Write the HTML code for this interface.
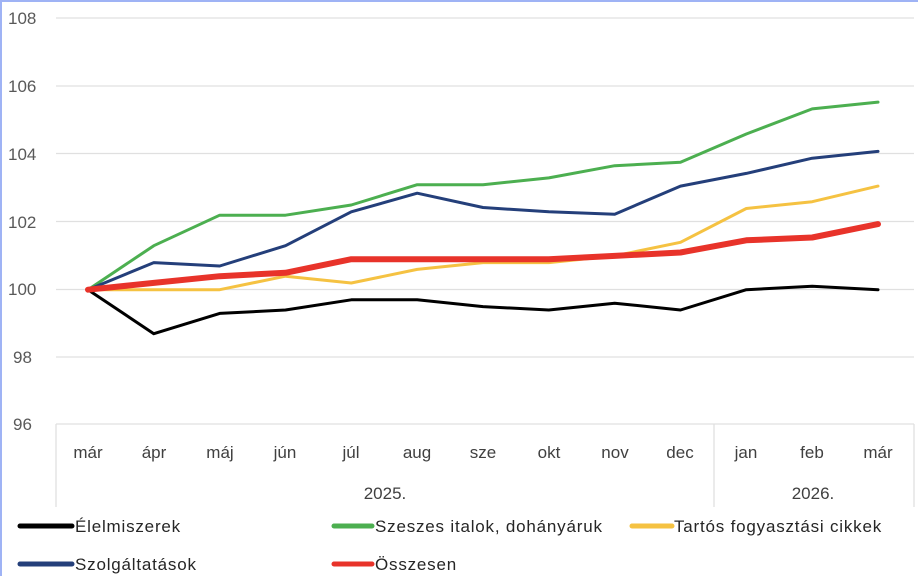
<!DOCTYPE html>
<html><head><meta charset="utf-8"><style>
body{margin:0;background:#fff}
svg{display:block;font-family:"Liberation Sans",sans-serif}
</style></head><body>
<svg width="918" height="576" viewBox="0 0 918 576">
<rect x="0" y="0" width="918" height="576" fill="#fff"/>
<rect x="0" y="0" width="918" height="2" fill="#9fb3f5"/>
<rect x="0" y="0" width="2" height="576" fill="#9fb3f5"/>
<g stroke="#e0e0e0" stroke-width="1.3">
<line x1="56" y1="18" x2="914" y2="18"/>
<line x1="56" y1="86" x2="914" y2="86"/>
<line x1="56" y1="153.5" x2="914" y2="153.5"/>
<line x1="56" y1="221.5" x2="914" y2="221.5"/>
<line x1="56" y1="289.5" x2="914" y2="289.5"/>
<line x1="56" y1="357" x2="914" y2="357"/>
<line x1="56" y1="424" x2="914" y2="424"/>
<line x1="56" y1="424" x2="56" y2="507"/>
<line x1="714" y1="424" x2="714" y2="507"/>
<line x1="914" y1="424" x2="914" y2="507"/>
</g>
<g fill="#595959" font-size="17">
<text x="8" y="24">108</text><text x="8" y="92">106</text><text x="8" y="160">104</text>
<text x="8" y="228">102</text><text x="8" y="295">100</text><text x="13" y="363">98</text><text x="13" y="430">96</text>
</g>
<g fill="#404040" font-size="17" text-anchor="middle">
<text x="88" y="458">már</text><text x="154" y="458">ápr</text><text x="220" y="458">máj</text>
<text x="285" y="458">jún</text><text x="351" y="458">júl</text><text x="417" y="458">aug</text>
<text x="483" y="458">sze</text><text x="549" y="458">okt</text><text x="615" y="458">nov</text>
<text x="680" y="458">dec</text><text x="746" y="458">jan</text><text x="812" y="458">feb</text>
<text x="878" y="458">már</text>
<text x="385" y="499">2025.</text><text x="813" y="499">2026.</text>
</g>
<g fill="none" stroke-linejoin="round" stroke-linecap="round">
<polyline stroke="#000" stroke-width="3" points="88,289.7 153.8,333.7 219.7,313.4 285.5,310 351.3,299.8 417.2,299.8 483,306.6 548.8,310 614.7,303.2 680.5,310 746.3,289.7 812.2,286.3 878,289.7"/>
<polyline stroke="#4caf50" stroke-width="3" points="88,289.7 153.8,245.7 219.7,215.2 285.5,215.2 351.3,205 417.2,184.7 483,184.7 548.8,177.9 614.7,165.7 680.5,162.3 746.3,134.0 812.2,108.9 878,102.1"/>
<polyline stroke="#f5c242" stroke-width="3" points="88,289.7 153.8,289.7 219.7,289.7 285.5,276.2 351.3,283 417.2,269.4 483,262.6 548.8,262.6 614.7,255.9 680.5,242.3 746.3,208.5 812.2,201.7 878,186.1"/>
<polyline stroke="#243f7a" stroke-width="3" points="88,289.7 153.8,262.6 219.7,266 285.5,245.7 351.3,211.8 417.2,193.2 483,207.5 548.8,211.8 614.7,214.2 680.5,186.1 746.3,173.4 812.2,158.2 878,151.4"/>
<polyline stroke="#e8332a" stroke-width="6" points="88,289.7 153.8,282.9 219.7,276.2 285.5,272.8 351.3,259.2 417.2,259.2 483,259.2 548.8,259.2 614.7,255.9 680.5,252.5 746.3,240.3 812.2,237.5 878,224.1"/>
</g>
<g stroke-width="5" stroke-linecap="round">
<line x1="20" y1="526" x2="72" y2="526" stroke="#000"/>
<line x1="334" y1="526" x2="372" y2="526" stroke="#4caf50"/>
<line x1="632" y1="526" x2="672" y2="526" stroke="#f5c242"/>
<line x1="20" y1="564" x2="72" y2="564" stroke="#243f7a"/>
<line x1="334" y1="564" x2="372" y2="564" stroke="#e8332a"/>
</g>
<g fill="#262626" font-size="17" letter-spacing="0.8">
<text x="75" y="532">Élelmiszerek</text>
<text x="375" y="532">Szeszes italok, dohányáruk</text>
<text x="674" y="532">Tartós fogyasztási cikkek</text>
<text x="75" y="570">Szolgáltatások</text>
<text x="375" y="570">Összesen</text>
</g>
</svg>
</body></html>
